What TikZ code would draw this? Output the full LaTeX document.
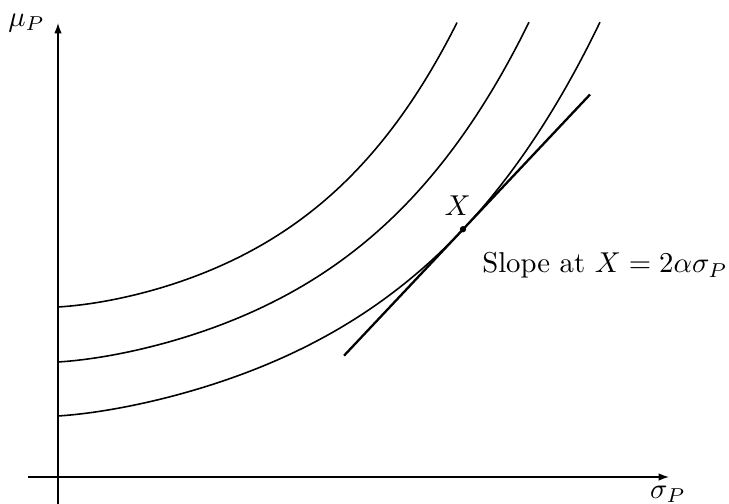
\documentclass[tikz,border=0pt]{standalone}
\usetikzlibrary{arrows.meta}
\begin{document}
\begin{tikzpicture}[x=0.348pt,y=-0.348pt,
  axisline/.style={line width=0.45pt,-{Latex[length=3.6pt,width=2.6pt]}},
  curveline/.style={line width=0.55pt},
  tangentline/.style={line width=0.8pt},
  lbl/.style={inner sep=0pt},
  dotnode/.style={circle,fill=black,inner sep=0pt,minimum size=2.2pt}]
\useasboundingbox (0,0) rectangle (729,504);
% axes
\coordinate (yb) at (58,504);
\coordinate (yt) at (58,23);
\coordinate (xl) at (28,477);
\coordinate (xr) at (669,477);
\draw[axisline] (yb) -- (yt);
\draw[axisline] (xl) -- (xr);
\node[lbl] (mu) at (26.5,23) {$\mu_P$};
\node[lbl] (sigma) at (668,494) {$\sigma_P$};
% indifference curves
\draw[curveline] plot[domain=0:399,samples=100,smooth]
  ({58+\x},{307-(23.5*(exp(\x/155)-1)-0.09*\x*exp(-\x/90))});
\draw[curveline] plot[domain=0:471,samples=100,smooth]
  ({58+\x},{362-(26.8*(exp(\x/180)-1)-0.085*\x*exp(-\x/90))});
\draw[curveline] plot[domain=0:542,samples=110,smooth]
  ({58+\x},{416-(29.94*(exp(\x/204.5)-1)-0.08*\x*exp(-\x/90))});
% tangent at X
\coordinate (t1) at (344,355.7);
\coordinate (t2) at (590,94.5);
\draw[tangentline] (t1) -- (t2);
\node[dotnode] (Xdot) at (463,229.2) {};
\node[lbl,anchor=base west] (Xlbl) at (444,215) {$X$};
\node[lbl,anchor=base west] (slope) at (481.7,272.7) {Slope at $X=2\alpha\sigma_P$};
\end{tikzpicture}
\end{document}
